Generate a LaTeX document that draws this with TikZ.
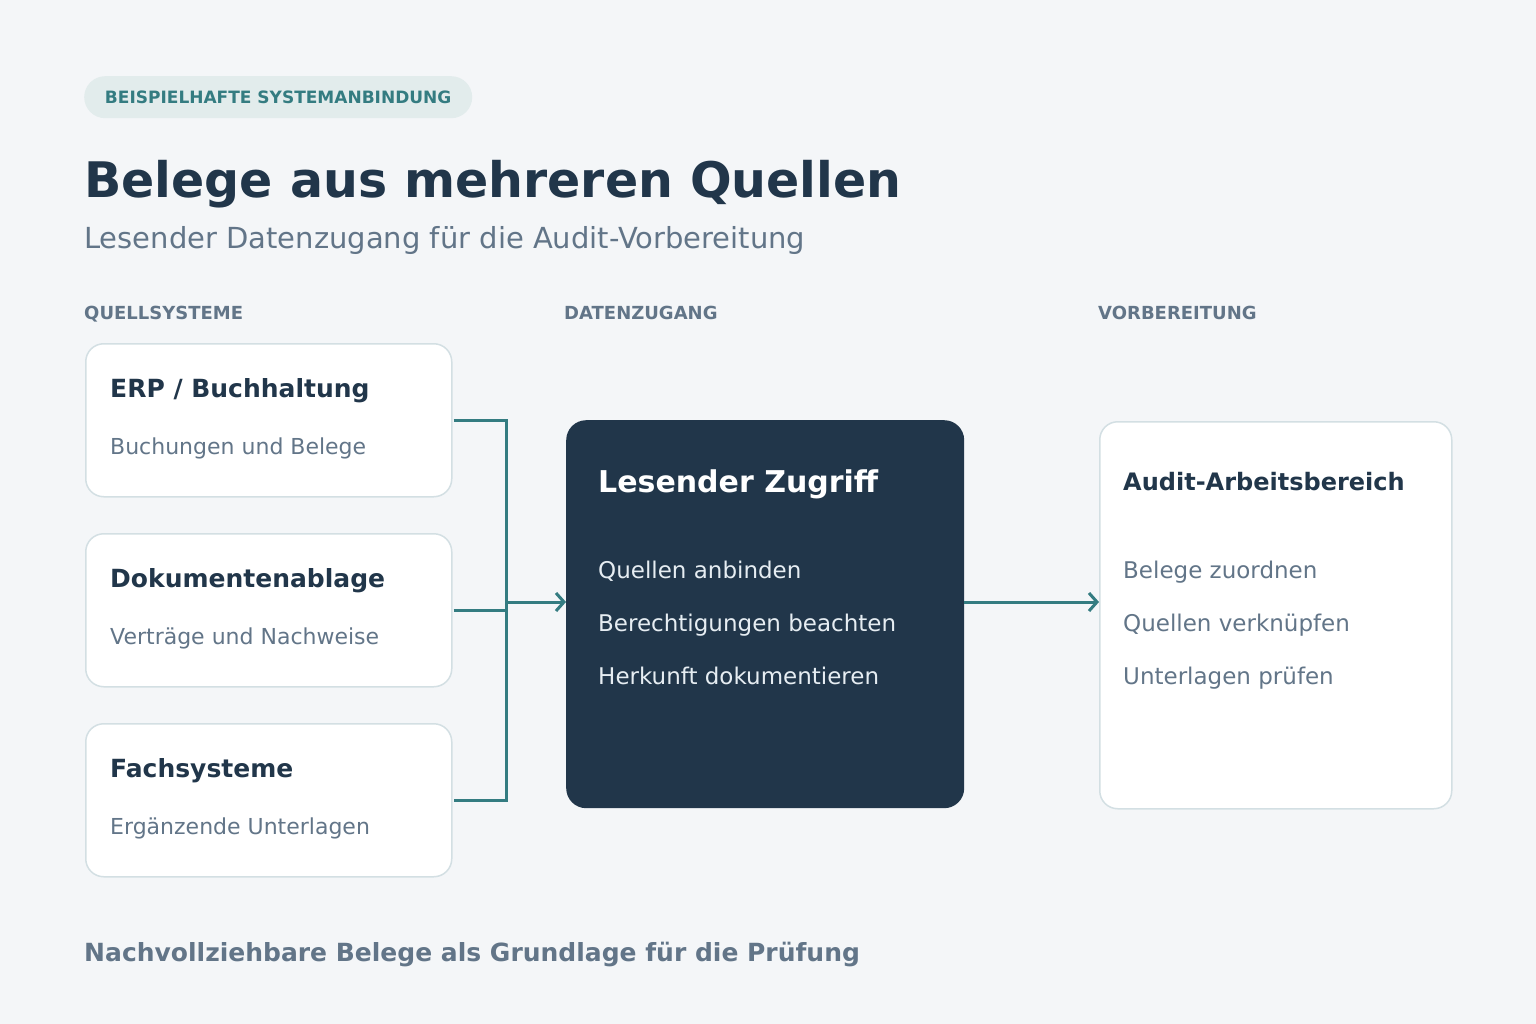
\documentclass[tikz,border=0pt]{standalone}
\usepackage{fontspec}
\setmainfont{DejaVu Sans}
\usetikzlibrary{arrows.meta}
\definecolor{bg}{HTML}{F4F6F8}
\definecolor{navy}{HTML}{21364A}
\definecolor{teal}{HTML}{347C81}
\definecolor{graytxt}{HTML}{627588}
\definecolor{badgefill}{HTML}{E2ECEC}
\definecolor{boxline}{HTML}{D3DFE3}
\definecolor{lighttxt}{HTML}{E6EDF2}
\tikzset{
  lbl/.style={anchor=base west, inner sep=0pt},
  card/.style={draw=boxline, line width=1.5pt, fill=white, rounded corners=18pt, anchor=north west, inner sep=0pt},
  conn/.style={draw=teal, line width=3pt},
  arr/.style={conn, -{Straight Barb[length=8pt,width=18pt,line width=3pt]}},
}
\begin{document}
\begin{tikzpicture}[x=1pt,y=-1pt]
\useasboundingbox (0,0) rectangle (1536,1024);
\fill[bg] (0,0) rectangle (1536,1024);
% badge
\node[fill=badgefill, rounded corners=21pt, minimum width=388pt, minimum height=42pt, inner sep=0pt, anchor=north west] (badge) at (84,76) {};
\node[font=\bfseries\fontsize{17}{17}\selectfont, text=teal, inner sep=0pt] (badgetxt) at (badge.center) {BEISPIELHAFTE SYSTEMANBINDUNG};
% title
\node[lbl, text=navy, font=\bfseries\fontsize{49}{49}\selectfont] (title) at (84,198) {Belege aus mehreren Quellen};
\node[lbl, text=graytxt, font=\fontsize{29}{29}\selectfont] (subtitle) at (84,249) {Lesender Datenzugang für die Audit-Vorbereitung};
% headers
\node[lbl, text=graytxt, font=\bfseries\fontsize{18}{18}\selectfont] (h1) at (84,319) {QUELLSYSTEME};
\node[lbl, text=graytxt, font=\bfseries\fontsize{18}{18}\selectfont] (h2) at (564,319) {DATENZUGANG};
\node[lbl, text=graytxt, font=\bfseries\fontsize{18}{18}\selectfont] (h3) at (1098,319) {VORBEREITUNG};
% left cards
\node[card, minimum width=366pt, minimum height=153pt] (erp) at (85,343) {};
\node[card, minimum width=366pt, minimum height=153pt] (dok) at (85,533) {};
\node[card, minimum width=366pt, minimum height=153pt] (fach) at (85,723) {};
\node[lbl, text=navy, font=\bfseries\fontsize{25}{25}\selectfont] (erpt) at (110,397) {ERP / Buchhaltung};
\node[lbl, text=graytxt, font=\fontsize{22}{22}\selectfont] (erps) at (110,454) {Buchungen und Belege};
\node[lbl, text=navy, font=\bfseries\fontsize{25}{25}\selectfont] (dokt) at (110,587) {Dokumentenablage};
\node[lbl, text=graytxt, font=\fontsize{22}{22}\selectfont] (doks) at (110,644) {Verträge und Nachweise};
\node[lbl, text=navy, font=\bfseries\fontsize{25}{25}\selectfont] (facht) at (110,777) {Fachsysteme};
\node[lbl, text=graytxt, font=\fontsize{22}{22}\selectfont] (fachs) at (110,834) {Ergänzende Unterlagen};
% center
\node[fill=navy, rounded corners=20pt, minimum width=398pt, minimum height=388pt, inner sep=0pt, anchor=north west] (zug) at (566,420) {};
\node[lbl, text=white, font=\bfseries\fontsize{30}{30}\selectfont] (zugt) at (598,492) {Lesender Zugriff};
\node[lbl, text=lighttxt, font=\fontsize{23}{23}\selectfont] (z1) at (598,578) {Quellen anbinden};
\node[lbl, text=lighttxt, font=\fontsize{23}{23}\selectfont] (z2) at (598,631) {Berechtigungen beachten};
\node[lbl, text=lighttxt, font=\fontsize{23}{23}\selectfont] (z3) at (598,684) {Herkunft dokumentieren};
% right
\node[card, minimum width=352pt, minimum height=387pt] (aud) at (1099,421) {};
\node[lbl, text=navy, font=\bfseries\fontsize{24}{24}\selectfont] (audt) at (1123,490) {Audit-Arbeitsbereich};
\node[lbl, text=graytxt, font=\fontsize{23}{23}\selectfont] (a1) at (1123,578) {Belege zuordnen};
\node[lbl, text=graytxt, font=\fontsize{23}{23}\selectfont] (a2) at (1123,631) {Quellen verknüpfen};
\node[lbl, text=graytxt, font=\fontsize{23}{23}\selectfont] (a3) at (1123,684) {Unterlagen prüfen};
% connectors
\coordinate (j) at (506,602);
\draw[conn] ([xshift=1pt]erp.east) -- (erp.east -| j) -- (fach.east -| j) -- ([xshift=1pt]fach.east);
\draw[conn] ([xshift=1pt]dok.east) -- (dok.east -| j);
\draw[arr] (j) -- (j -| zug.west);
\coordinate (k) at (964,602);
\draw[arr] (k) -- (k -| aud.west);
% footer
\node[lbl, text=graytxt, font=\bfseries\fontsize{25}{25}\selectfont] (foot) at (84,961) {Nachvollziehbare Belege als Grundlage für die Prüfung};
\end{tikzpicture}
\end{document}
